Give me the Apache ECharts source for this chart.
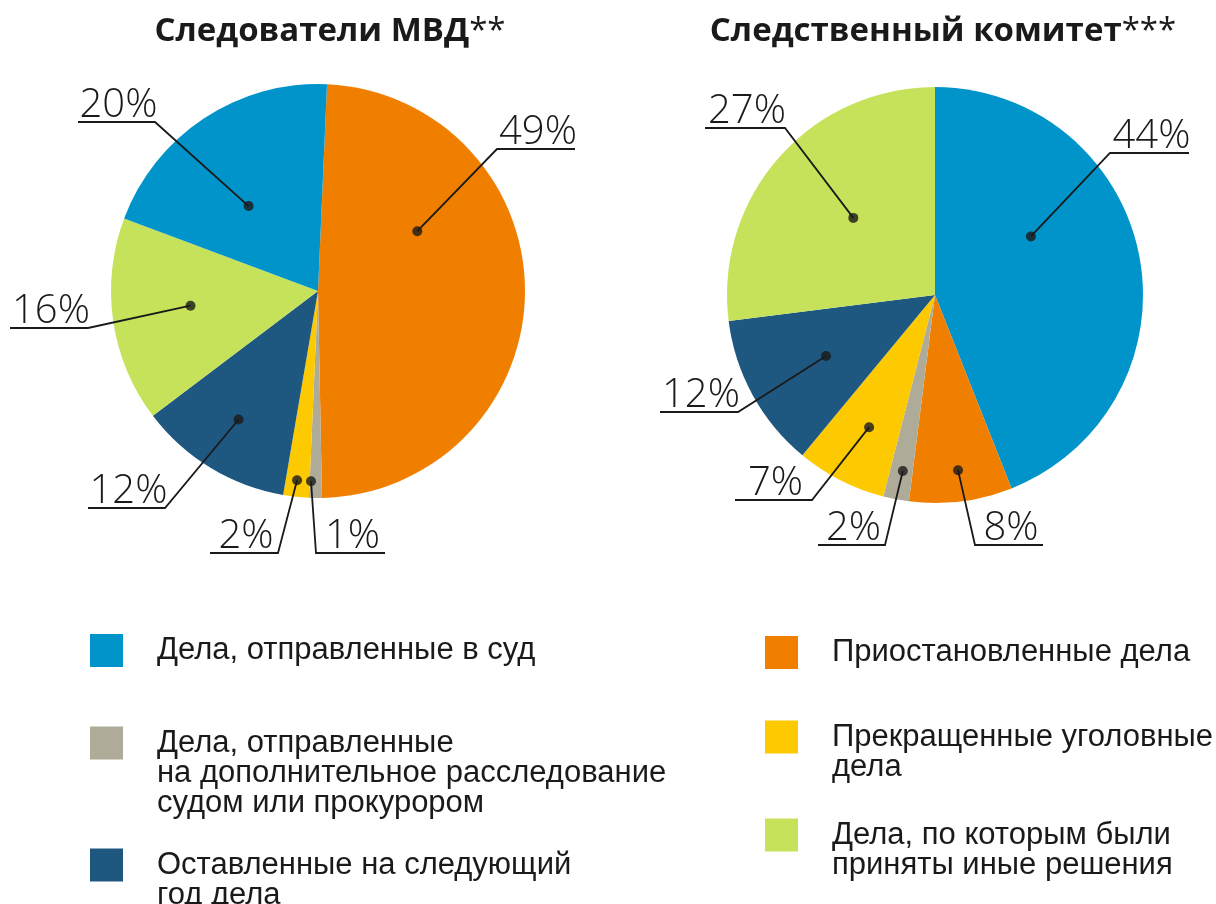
<!DOCTYPE html>
<html lang="ru">
<head>
    <meta charset="UTF-8">
    <title>Следователи МВД и Следственный комитет</title>
    <script src="https://cdn.jsdelivr.net/npm/echarts@6/dist/echarts.min.js"></script>
    <style>
        html,
        body {
            margin: 0;
            padding: 0;
            background: #fff;
        }

        #pic {
            width: 1216px;
            height: 904px;
        }
    </style>
</head>

<body>
    <div id="pic"></div>

    <script>
        // категории
        const catCourt = 'Дела, отправленные в суд';
        const catSuspended = 'Приостановленные дела';
        const catReturned = 'Дела, отправленные на дополнительное расследование судом или прокурором';
        const catStopped = 'Прекращенные уголовные дела';
        const catNextYear = 'Оставленные на следующий год дела';
        const catOther = 'Дела, по которым были приняты иные решения';

        // Следователи МВД (по часовой стрелке, %)
        const mvdNames = [catSuspended, catReturned, catStopped, catNextYear, catOther, catCourt];
        const mvdValues = [49, 1, 2, 12, 16, 20];

        // Следственный комитет (по часовой стрелке, %)
        const skNames = [catCourt, catSuspended, catReturned, catStopped, catNextYear, catOther];
        const skValues = [44, 8, 2, 7, 12, 27];

        const colors = {};
        colors[catCourt] = '#0094cb';
        colors[catSuspended] = '#f07f00';
        colors[catReturned] = '#aeab99';
        colors[catStopped] = '#fdc900';
        colors[catNextYear] = '#1e5880';
        colors[catOther] = '#c5e25a';

        // подписи легенды с переносами
        const legendText = {};
        legendText[catCourt] = 'Дела, отправленные в суд';
        legendText[catSuspended] = 'Приостановленные дела';
        legendText[catReturned] = 'Дела, отправленные\nна дополнительное расследование\nсудом или прокурором';
        legendText[catStopped] = 'Прекращенные уголовные\nдела';
        legendText[catNextYear] = 'Оставленные на следующий\nгод дела';
        legendText[catOther] = 'Дела, по которым были\nприняты иные решения';

        // геометрия кругов и выносок
        const pies = [{
            title: 'Следователи МВД{s|**}',
            titleX: 325,
            center: [318, 291],
            radius: 207,
            startAngle: 87.5,
            names: mvdNames,
            values: mvdValues,
            // положение точки внутри сектора: доля угла, доля радиуса
            dotT: [0.32, 0.89, 0.53, 0.51, 0.53, 0.42],
            dotR: [0.56, 0.92, 0.92, 0.73, 0.62, 0.53],
            // излом выноски относительно центра и длина подчёркивания (знак = сторона)
            elbow: [[179, -142, 78], [-2, 262, 69], [-40, 262, -68], [-153, 217, -77], [-230, 37, -78], [-163, -169, -77]]
        }, {
            title: 'Следственный комитет{s|***}',
            titleX: 938,
            center: [935, 295],
            radius: 208,
            startAngle: 90,
            names: skNames,
            values: skValues,
            dotT: [0.37, 0.49, 0.44, 0.48, 0.49, 0.52],
            dotR: [0.54, 0.85, 0.86, 0.71, 0.60, 0.54],
            elbow: [[175, -142, 79], [40, 250, 68], [-50, 250, -67], [-123, 205, -77], [-197, 117, -78], [-150, -167, -80]]
        }];

        // угол точки (в единицах данных) для каждого сектора
        function dotValues(p) {
            let cum = 0;
            return p.values.map(function (v, i) {
                const a = cum + p.dotT[i] * v;
                cum += v;
                return [p.dotR[i], a];
            });
        }

        function dotPixel(p, i) {
            const total = p.values.reduce(function (s, v) { return s + v; }, 0);
            const d = dotValues(p)[i];
            const deg = (90 - p.startAngle) + d[1] / total * 360;
            const rad = deg * Math.PI / 180;
            const r = d[0] * p.radius;
            return [p.center[0] + r * Math.sin(rad), p.center[1] - r * Math.cos(rad)];
        }

        const ink = '#1a1a1a';

        // цветные круги (без подписей)
        const series = pies.map(function (p) {
            return {
                type: 'pie',
                center: p.center,
                radius: p.radius,
                startAngle: p.startAngle,
                clockwise: true,
                silent: true,
                z: 2,
                itemStyle: { borderWidth: 0 },
                label: { show: false },
                labelLine: { show: false },
                data: p.names.map(function (n, i) {
                    return { name: n, value: p.values[i], itemStyle: { color: colors[n] } };
                })
            };
        });

        // прозрачные копии сверху: только подписи и выноски
        pies.forEach(function (p) {
            series.push({
                type: 'pie',
                center: p.center,
                radius: p.radius,
                startAngle: p.startAngle,
                clockwise: true,
                avoidLabelOverlap: false,
                silent: true,
                legendHoverLink: false,
                z: 4,
                itemStyle: { color: 'rgba(0,0,0,0)', borderWidth: 0 },
                data: p.names.map(function (n, i) {
                    return { name: n, value: p.values[i] };
                }),
                label: {
                    show: true,
                    position: 'outside',
                    formatter: '{c}%',
                    fontFamily: 'Open Sans',
                    fontWeight: 300,
                    fontSize: 40,
                    lineHeight: 40,
                    color: ink
                },
                labelLine: {
                    show: true,
                    length: 10,
                    length2: 10,
                    lineStyle: { color: ink, width: 1.8 }
                },
                labelLayout: function (params) {
                    const pp = pies[params.seriesIndex - pies.length];
                    const i = params.dataIndex;
                    const dot = dotPixel(pp, i);
                    const el = pp.elbow[i];
                    const ex = pp.center[0] + el[0];
                    const ey = pp.center[1] + el[1];
                    const endX = ex + el[2];
                    return {
                        x: (ex + endX) / 2 + 2,
                        y: ey + 4,
                        align: 'center',
                        verticalAlign: 'bottom',
                        labelLinePoints: [dot, [ex, ey], [endX, ey]]
                    };
                }
            });
        });

        pies.forEach(function (p, idx) {
            series.push({
                type: 'scatter',
                coordinateSystem: 'polar',
                polarIndex: idx,
                symbol: 'circle',
                symbolSize: 10,
                silent: true,
                z: 5,
                itemStyle: { color: ink },
                data: dotValues(p)
            });
        });

        // легенда: две колонки, по одному элементу на компонент
        const legendSlots = [
            { name: catCourt, left: 90, iconTop: 634, lines: 1, padTop: 16 },
            { name: catReturned, left: 90, iconTop: 726, lines: 3, padTop: 0 },
            { name: catNextYear, left: 90, iconTop: 848, lines: 2, padTop: 0 },
            { name: catSuspended, left: 765, iconTop: 636, lines: 1, padTop: 14 },
            { name: catStopped, left: 765, iconTop: 720, lines: 2, padTop: 0 },
            { name: catOther, left: 765, iconTop: 818, lines: 2, padTop: 0 }
        ];
        const lh = 30;
        const icon = 33;
        const legends = legendSlots.map(function (s) {
            // пустые строки сверху, чтобы первая строка стояла напротив значка
            const pad = new Array(s.lines).join('\n');
            const boxH = (2 * s.lines - 1) * lh + s.padTop;
            const shift = Math.max(0, boxH / 2 - icon / 2);
            return {
                data: [s.name],
                left: s.left,
                top: s.iconTop - shift,
                padding: 0,
                icon: 'rect',
                itemWidth: icon,
                itemHeight: icon,
                selectedMode: false,
                formatter: function (n) { return pad + legendText[n]; },
                textStyle: {
                    fontFamily: 'Liberation Sans',
                    fontSize: 31,
                    lineHeight: lh,
                    color: ink,
                    padding: [s.padTop, 0, 0, 29]
                }
            };
        });

        const titles = pies.map(function (p) {
            return {
                text: p.title,
                left: p.titleX,
                top: 10,
                textAlign: 'center',
                textStyle: {
                    fontFamily: 'Open Sans',
                    fontWeight: 'bold',
                    fontSize: 33,
                    color: ink,
                    rich: {
                        s: { fontFamily: 'Open Sans', fontWeight: 'normal', fontSize: 33, color: ink }
                    }
                }
            };
        });

        const hiddenAxis = {
            axisLine: { show: false },
            axisTick: { show: false },
            axisLabel: { show: false },
            splitLine: { show: false },
            splitArea: { show: false }
        };

        const myChart = echarts.init(document.getElementById('pic'));
        myChart.setOption({
            backgroundColor: '#fff',
            animation: false,
            title: titles,
            legend: legends,
            polar: pies.map(function (p) {
                return { center: p.center, radius: p.radius };
            }),
            angleAxis: pies.map(function (p, idx) {
                return Object.assign({
                    polarIndex: idx, type: 'value', min: 0, max: 100,
                    startAngle: p.startAngle, clockwise: true
                }, hiddenAxis);
            }),
            radiusAxis: pies.map(function (p, idx) {
                return Object.assign({ polarIndex: idx, type: 'value', min: 0, max: 1 }, hiddenAxis);
            }),
            series: series
        });
    </script>
</body>

</html>
